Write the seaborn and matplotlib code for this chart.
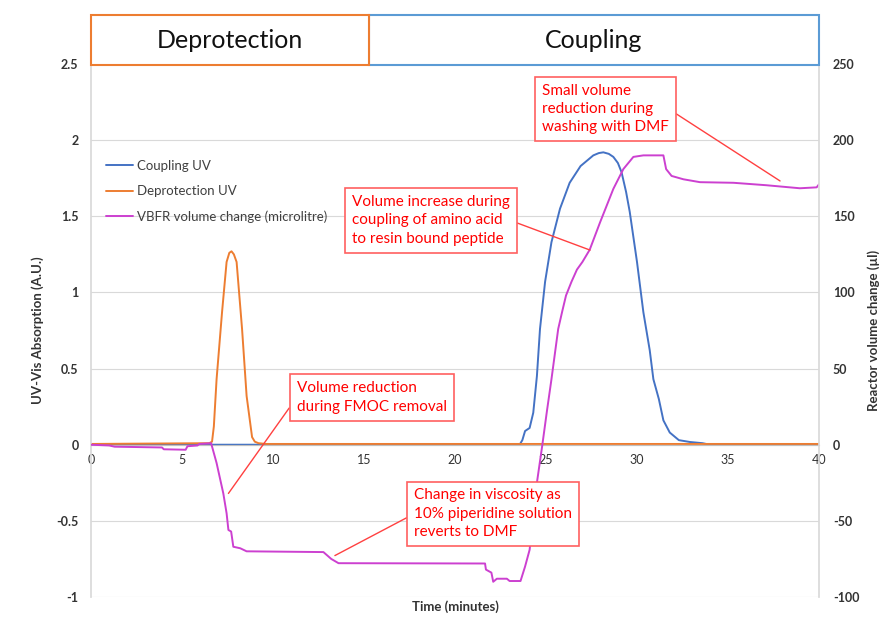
import numpy as np
import pandas as pd
import matplotlib
matplotlib.use("Agg")
import matplotlib.pyplot as plt
from matplotlib.patches import Rectangle
import seaborn as sns

# Coupling UV (A.U.)
cpl_time = [0, 23.55, 23.7, 23.85, 24.1, 24.3, 24.5, 24.67, 24.95, 25.3, 25.77, 26.3, 26.9,
            27.3, 27.6, 27.9, 28.15, 28.45, 28.7, 28.95, 29.15, 29.4, 29.6, 30.0, 30.35, 30.7,
            30.9, 31.2, 31.45, 31.8, 32.3, 32.9, 33.6, 34.0, 40]
cpl_uv = [0, 0, 0.03, 0.09, 0.11, 0.21, 0.45, 0.76, 1.07, 1.33, 1.55, 1.72, 1.83,
          1.87, 1.90, 1.915, 1.92, 1.91, 1.89, 1.85, 1.79, 1.66, 1.53, 1.20, 0.87, 0.62,
          0.43, 0.30, 0.16, 0.08, 0.03, 0.018, 0.01, 0.0, 0.0]

# Deprotection UV (A.U.)
dep_time = [0, 6.5, 6.65, 6.75, 6.9, 7.2, 7.45, 7.6, 7.72, 7.85, 8.0, 8.3, 8.55, 8.85, 9.0,
            9.2, 9.6, 40]
dep_uv = [0.005, 0.01, 0.02, 0.12, 0.43, 0.87, 1.2, 1.26, 1.27, 1.25, 1.2, 0.76, 0.32, 0.05,
          0.02, 0.01, 0.005, 0.005]

# VBFR volume change (microlitre)
vol_time = [0, 1.0, 1.3, 3.9, 4.0, 5.2, 5.3, 5.85, 5.95, 6.6, 6.9, 7.27, 7.45, 7.55, 7.7,
            7.82, 8.2, 8.55, 12.77, 13.2, 13.6, 21.65, 21.7, 22.0, 22.1, 22.3, 22.85, 23.0,
            23.6, 23.85, 24.1, 24.5, 24.8, 25.05, 25.3, 25.67, 25.9, 26.1, 26.4, 26.7, 27.0,
            27.4, 27.97, 28.7, 29.25, 29.8, 30.35, 31.45, 31.6, 31.9, 32.55, 33.46, 35.3,
            37.1, 38.95, 39.87, 40]
vol_ul = [0, -0.5, -1.3, -1.8, -3.0, -3.3, -1.0, -0.5, 0.5, 1.0, -12, -32, -45, -56, -57,
          -67, -68, -70, -70.5, -75, -77.8, -78, -82, -84, -90, -88, -88, -89.5,
          -89.5, -80, -69, -25, 0, 22, 43, 76, 88, 98, 107, 115, 120,
          128, 146, 168, 181, 189, 190, 190, 181, 176.5, 174.3, 172.4, 172,
          170.4, 168.4, 169, 171]

x_ticks = [0, 5, 10, 15, 20, 25, 30, 35, 40]
left_ticks = [-1, -0.5, 0, 0.5, 1, 1.5, 2, 2.5]
left_labels = ["-1", "-0.5", "0", "0.5", "1", "1.5", "2", "2.5"]
right_ticks = [-100, -50, 0, 50, 100, 150, 200, 250]
right_labels = ["-100", "-50", "0", "50", "100", "150", "200", "250"]

sns.set_theme(style="white")
plt.rcParams['font.family'] = ['Lato', 'DejaVu Sans']

W, H = 896, 628
fig = plt.figure(figsize=(W / 100, H / 100), dpi=100)
ax = fig.add_axes([91 / W, 31 / H, 728 / W, 533 / H])
ax2 = ax.twinx()

blue = "#4472C4"
orange = "#ED7D31"
magenta = "#CC40D0"
lw = 1.4

sns.lineplot(x=cpl_time, y=cpl_uv, ax=ax, color=blue, lw=lw, label="Coupling UV")
sns.lineplot(x=dep_time, y=dep_uv, ax=ax, color=orange, lw=lw, label="Deprotection UV")
sns.lineplot(x=vol_time, y=vol_ul, ax=ax2, color=magenta, lw=lw,
             label="VBFR volume change (microlitre)")

ax.set_xlim(0, 40)
ax.set_ylim(-1, 2.5)
ax2.set_ylim(-100, 250)

tick_col = "#333333"
ax.set_xticks(x_ticks)
ax.set_xticklabels([str(t) for t in x_ticks], fontweight="bold")
ax.set_yticks(left_ticks)
ax.set_yticklabels(left_labels, fontweight="bold")
ax2.set_yticks(right_ticks)
ax2.set_yticklabels(right_labels, fontweight="bold")
ax.tick_params(axis="x", length=0, pad=7, labelsize=9, labelcolor=tick_col)
ax.tick_params(axis="y", length=0, pad=9, labelsize=9, labelcolor=tick_col)
ax2.tick_params(axis="y", length=0, pad=10, labelsize=9, labelcolor=tick_col)

ax.grid(axis="y", color="#d9d9d9", lw=0.8)
ax.grid(axis="x", visible=False)
ax2.grid(False)

for s in ["top", "right"]:
    ax.spines[s].set_visible(False)
for s in ["top", "left", "bottom"]:
    ax2.spines[s].set_visible(False)
ax.spines["left"].set_color("#d9d9d9")
ax2.spines["right"].set_color("#d9d9d9")
ax.spines["bottom"].set_position(("data", 0))
ax.spines["bottom"].set_color("#bfbfbf")
ax.spines["bottom"].set_linewidth(0.8)

ax.set_xlabel("")
ax.set_ylabel("")
ax2.set_ylabel("")
fig.text(455 / W, 1 - 607 / H, "Time (minutes)", ha="center", va="center",
         fontsize=9.5, fontweight="bold", color=tick_col)
fig.text(38 / W, 1 - 330 / H, "UV-Vis Absorption (A.U.)", ha="center", va="center",
         rotation=90, fontsize=9.5, fontweight="bold", color=tick_col)
fig.text(874 / W, 1 - 330 / H, "Reactor volume change (\u00b5l)", ha="center", va="center",
         rotation=90, fontsize=9.5, fontweight="bold", color=tick_col)

# legend
h1, l1 = ax.get_legend_handles_labels()
h2, l2 = ax2.get_legend_handles_labels()
if ax.get_legend() is not None:
    ax.get_legend().remove()
ax2.legend(h1 + h2, l1 + l2, loc="upper left", bbox_to_anchor=(0.021, 0.82),
           frameon=False, fontsize=9.5, handlelength=2.0, handletextpad=0.3,
           labelspacing=1.0, borderpad=0, borderaxespad=0, labelcolor="#404040")

# phase header boxes
fig.add_artist(Rectangle((369 / W, 1 - 65 / H), 450 / W, 50 / H, transform=fig.transFigure,
                         fc="white", ec="#5B9BD5", lw=1.5))
fig.add_artist(Rectangle((91 / W, 1 - 65 / H), 278 / W, 50 / H, transform=fig.transFigure,
                         fc="white", ec=orange, lw=1.5))
fig.text(230 / W, 1 - 40 / H, "Deprotection", ha="center", va="center", fontsize=18,
         color="#111111")
fig.text(594 / W, 1 - 40 / H, "Coupling", ha="center", va="center", fontsize=18,
         color="#111111")

# callouts
red = "#FF0000"
box = dict(boxstyle="square,pad=0.45", fc="white", ec="#FF6060", lw=1.2)


def callout(text, xy, xytext, rel):
    ax2.annotate(text, xy=xy, xytext=xytext, xycoords="data", textcoords="data",
                 ha="left", va="center", fontsize=11, color=red, linespacing=1.4,
                 bbox=box, zorder=5,
                 arrowprops=dict(arrowstyle="-", color="#FF4040", lw=1.0,
                                 shrinkA=0, shrinkB=0, relpos=rel))


callout("Volume reduction\nduring FMOC removal", (7.55, -32), (11.3, 31), (0, 0.5))
callout("Change in viscosity as\n10% piperidine solution\nreverts to DMF", (13.4, -72.8),
        (17.75, -45.4), (0, 0.5))
callout("Volume increase during\ncoupling of amino acid\nto resin bound peptide", (27.42, 127.8),
        (14.34, 147.4), (1, 0.5))
callout("Small volume\nreduction during\nwashing with DMF", (37.86, 173.2),
        (24.78, 220.4), (1, 0.5))

fig.savefig("out.png", dpi=100)
